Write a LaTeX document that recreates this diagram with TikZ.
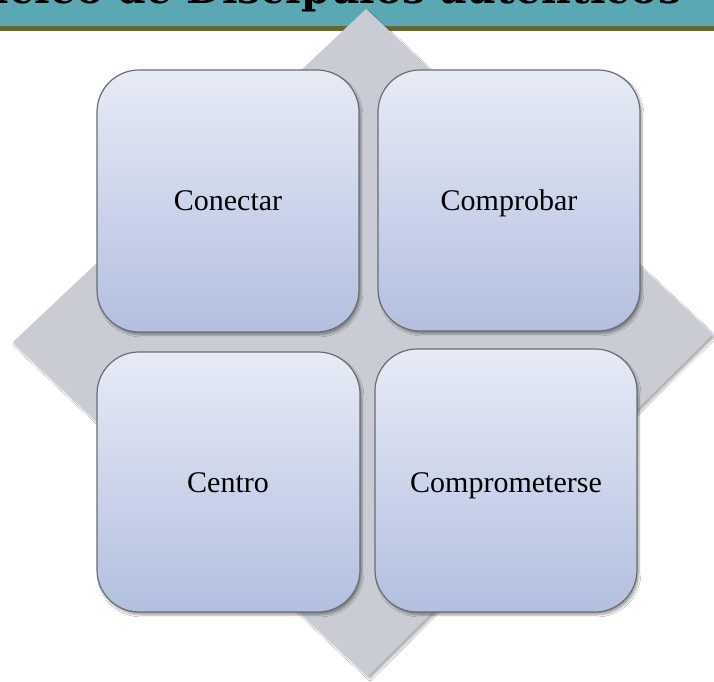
\documentclass[tikz,border=0pt]{standalone}
\usepackage{fontspec}
\setmainfont{Liberation Serif}
\newfontfamily\headfont{DejaVu Serif}
\usetikzlibrary{shadows.blur}
\definecolor{bandteal}{HTML}{5BA8B5}
\definecolor{bandolive}{HTML}{676734}
\definecolor{diamondgray}{HTML}{C9CCD5}
\definecolor{boxtop}{HTML}{E7EBF6}
\definecolor{boxbottom}{HTML}{B2BFDF}
\definecolor{boxborder}{HTML}{6A6C72}
\tikzset{
  quadbox/.style={draw=boxborder, line width=1.2pt, rounded corners=42pt,
    top color=boxtop, bottom color=boxbottom,
    blur shadow={shadow xshift=2pt, shadow yshift=-3pt, shadow blur steps=6, shadow opacity=35}},
  quadtext/.style={font=\fontsize{30}{34}\selectfont, text=black, anchor=base, inner sep=0pt},
  diamondshape/.style={fill=diamondgray,
    blur shadow={shadow xshift=2pt, shadow yshift=-3pt, shadow blur steps=6, shadow opacity=30}}
}
\begin{document}
\begin{tikzpicture}[x=1pt, y=-1pt]
\useasboundingbox (0,0) rectangle (714,681);
\fill[white] (0,0) rectangle (714,681);
% header band
\fill[bandteal] (0,0) rectangle (714,26);
\fill[bandolive] (0,26) rectangle (714,31);
% diamond
\path[diamondshape] (366,9) -- (713,334) -- (368,676) -- (13,342) -- cycle;
% header text (mostly cut off)
\node[anchor=base west, inner sep=0pt, font=\headfont\bfseries\fontsize{41}{44}\selectfont, text=black] (title) at (-58,3) {Núcleo de Discípulos auténticos};
% boxes
\path[quadbox] (97,70) rectangle (359,332);
\path[quadbox] (378,70) rectangle (640,331);
\path[quadbox] (97,352) rectangle (360,612);
\path[quadbox] (375,349) rectangle (637,612);
\node[quadtext] (conectar) at (228,210) {Conectar};
\node[quadtext] (comprobar) at (509,210) {Comprobar};
\node[quadtext] (centro) at (228,492) {Centro};
\node[quadtext] (comprometerse) at (506,492) {Comprometerse};
\end{tikzpicture}
\end{document}
